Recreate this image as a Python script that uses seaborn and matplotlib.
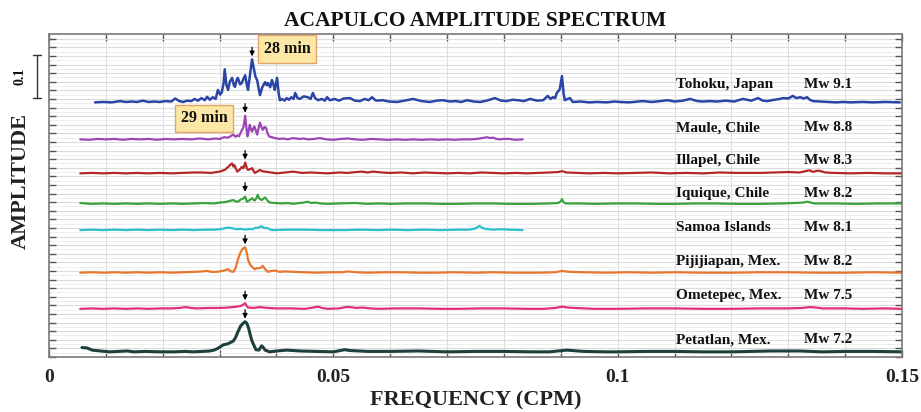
import matplotlib
matplotlib.use("Agg")
import matplotlib.pyplot as plt
import matplotlib.transforms as mtransforms
from matplotlib.ticker import MultipleLocator, FuncFormatter
import pandas as pd
import seaborn as sns

# ---------------------------------------------------------------- data
events = ["Tohoku, Japan", "Maule, Chile", "Illapel, Chile", "Iquique, Chile",
          "Samoa Islands", "Pijijiapan, Mex.", "Ometepec, Mex.", "Petatlan, Mex."]
magnitudes = ["Mw 9.1", "Mw 8.8", "Mw 8.3", "Mw 8.2",
              "Mw 8.1", "Mw 8.2", "Mw 7.5", "Mw 7.2"]
# vertical stacking offset of each spectrum
offsets = [0.592, 0.505, 0.427, 0.356, 0.295, 0.196, 0.112, 0.012]

# (frequency in CPM, spectral amplitude) for each event
tohoku = [
    (0.0081, 0.000), (0.0095, 0.001), (0.0110, 0.000), (0.0125, 0.003), (0.0135, 0.001),
    (0.0145, 0.002), (0.0155, 0.001), (0.0165, 0.004), (0.0175, 0.001), (0.0185, 0.002),
    (0.0195, 0.001), (0.0205, 0.003), (0.0215, 0.002), (0.0222, 0.009), (0.0229, 0.003),
    (0.0236, 0.001), (0.0243, 0.004), (0.0250, 0.003), (0.0256, 0.008), (0.0262, 0.004),
    (0.0268, 0.010), (0.0274, 0.005), (0.0278, 0.013), (0.0283, 0.006), (0.0288, 0.012),
    (0.0293, 0.008), (0.0297, 0.029), (0.0301, 0.018), (0.0304, 0.024), (0.0307, 0.045),
    (0.0309, 0.077), (0.0312, 0.040), (0.0315, 0.029), (0.0318, 0.048), (0.0322, 0.057),
    (0.0325, 0.040), (0.0327, 0.036), (0.0330, 0.052), (0.0332, 0.057), (0.0336, 0.042),
    (0.0339, 0.045), (0.0342, 0.055), (0.0345, 0.063), (0.0348, 0.040), (0.0350, 0.029),
    (0.0354, 0.070), (0.0357, 0.100), (0.0360, 0.080), (0.0363, 0.060), (0.0366, 0.052),
    (0.0369, 0.030), (0.0371, 0.017), (0.0375, 0.035), (0.0380, 0.047), (0.0383, 0.040),
    (0.0385, 0.045), (0.0389, 0.035), (0.0392, 0.052), (0.0395, 0.040), (0.0397, 0.029),
    (0.0401, 0.057), (0.0404, 0.020), (0.0406, 0.005), (0.0410, 0.008), (0.0414, 0.004),
    (0.0418, 0.010), (0.0422, 0.006), (0.0426, 0.012), (0.0430, 0.008), (0.0433, 0.022),
    (0.0437, 0.010), (0.0441, 0.008), (0.0448, 0.014), (0.0455, 0.012), (0.0460, 0.008),
    (0.0464, 0.022), (0.0468, 0.010), (0.0473, 0.005), (0.0480, 0.008), (0.0485, 0.004),
    (0.0489, 0.012), (0.0494, 0.005), (0.0502, 0.008), (0.0510, 0.004), (0.0518, 0.009),
    (0.0529, 0.010), (0.0538, 0.004), (0.0547, 0.003), (0.0555, 0.008), (0.0562, 0.005),
    (0.0568, 0.012), (0.0575, 0.004), (0.0587, 0.005), (0.0598, 0.002), (0.0612, 0.001),
    (0.0625, 0.004), (0.0640, 0.008), (0.0655, 0.003), (0.0670, 0.001), (0.0682, 0.004),
    (0.0693, 0.005), (0.0705, 0.002), (0.0715, 0.003), (0.0725, 0.001), (0.0735, 0.005),
    (0.0747, 0.002), (0.0758, 0.001), (0.0770, 0.004), (0.0784, 0.010), (0.0795, 0.004),
    (0.0805, 0.003), (0.0815, 0.006), (0.0825, 0.005), (0.0835, 0.003), (0.0846, 0.008),
    (0.0858, 0.004), (0.0869, 0.005), (0.0877, 0.015), (0.0882, 0.008), (0.0886, 0.012),
    (0.0890, 0.010), (0.0893, 0.022), (0.0898, 0.030), (0.0902, 0.061), (0.0905, 0.020),
    (0.0907, 0.005), (0.0912, 0.008), (0.0916, 0.010), (0.0921, 0.001), (0.0935, 0.002),
    (0.0950, 0.000), (0.0964, 0.001), (0.0980, 0.000), (0.0995, 0.002), (0.1004, 0.001),
    (0.1020, 0.000), (0.1035, 0.002), (0.1044, 0.003), (0.1060, 0.001), (0.1075, 0.003),
    (0.1088, 0.005), (0.1100, 0.002), (0.1115, 0.004), (0.1127, 0.008), (0.1140, 0.003),
    (0.1150, 0.002), (0.1162, 0.003), (0.1175, 0.002), (0.1190, 0.004), (0.1205, 0.002),
    (0.1220, 0.008), (0.1235, 0.004), (0.1247, 0.010), (0.1255, 0.004), (0.1263, 0.003),
    (0.1275, 0.006), (0.1285, 0.008), (0.1291, 0.010), (0.1300, 0.009), (0.1308, 0.015),
    (0.1314, 0.010), (0.1321, 0.012), (0.1327, 0.009), (0.1333, 0.012), (0.1338, 0.006),
    (0.1343, 0.003), (0.1355, 0.002), (0.1370, 0.001), (0.1385, 0.000), (0.1396, 0.001),
    (0.1410, 0.000), (0.1430, 0.001), (0.1450, 0.000), (0.1470, 0.001), (0.1496, 0.000),
]

maule = [
    (0.0055, 0.001), (0.0070, 0.000), (0.0085, 0.002), (0.0100, 0.001), (0.0115, 0.002),
    (0.0130, 0.000), (0.0145, 0.002), (0.0160, 0.001), (0.0175, 0.002), (0.0190, 0.000),
    (0.0205, 0.002), (0.0220, 0.001), (0.0235, 0.002), (0.0250, 0.001), (0.0265, 0.003),
    (0.0280, 0.001), (0.0292, 0.003), (0.0300, 0.002), (0.0308, 0.006), (0.0315, 0.005),
    (0.0320, 0.009), (0.0324, 0.012), (0.0328, 0.007), (0.0331, 0.010), (0.0334, 0.008),
    (0.0338, 0.019), (0.0342, 0.030), (0.0345, 0.056), (0.0347, 0.030), (0.0349, 0.008),
    (0.0351, 0.020), (0.0353, 0.035), (0.0355, 0.025), (0.0357, 0.019), (0.0359, 0.026),
    (0.0361, 0.031), (0.0364, 0.020), (0.0366, 0.012), (0.0369, 0.030), (0.0371, 0.040),
    (0.0374, 0.028), (0.0376, 0.023), (0.0379, 0.030), (0.0382, 0.027), (0.0384, 0.016),
    (0.0387, 0.008), (0.0392, 0.006), (0.0397, 0.004), (0.0405, 0.002), (0.0412, 0.003),
    (0.0420, 0.001), (0.0429, 0.004), (0.0440, 0.002), (0.0448, 0.003), (0.0455, 0.001),
    (0.0466, 0.002), (0.0476, 0.004), (0.0488, 0.001), (0.0500, 0.000), (0.0513, 0.002),
    (0.0526, 0.003), (0.0538, 0.001), (0.0552, 0.000), (0.0566, 0.002), (0.0580, 0.001),
    (0.0596, 0.000), (0.0612, 0.001), (0.0626, 0.000), (0.0640, 0.001), (0.0655, 0.000),
    (0.0670, 0.001), (0.0685, 0.000), (0.0700, 0.001), (0.0712, 0.000), (0.0725, 0.001),
    (0.0740, 0.001), (0.0752, 0.002), (0.0762, 0.004), (0.0770, 0.006), (0.0776, 0.004),
    (0.0781, 0.005), (0.0787, 0.002), (0.0793, 0.001), (0.0800, 0.002), (0.0810, 0.002),
    (0.0820, 0.000), (0.0833, 0.001),
]

illapel = [
    (0.0055, 0.000), (0.0075, 0.001), (0.0095, 0.000), (0.0115, 0.001), (0.0135, 0.000),
    (0.0155, 0.001), (0.0175, 0.000), (0.0195, 0.001), (0.0215, 0.000), (0.0235, 0.001),
    (0.0255, 0.002), (0.0270, 0.002), (0.0285, 0.001), (0.0300, 0.004), (0.0309, 0.008),
    (0.0315, 0.015), (0.0319, 0.020), (0.0322, 0.023), (0.0324, 0.016), (0.0326, 0.019),
    (0.0329, 0.010), (0.0331, 0.004), (0.0335, 0.008), (0.0339, 0.015), (0.0342, 0.012),
    (0.0345, 0.025), (0.0348, 0.012), (0.0350, 0.008), (0.0354, 0.010), (0.0357, 0.012),
    (0.0360, 0.005), (0.0362, 0.001), (0.0366, 0.004), (0.0371, 0.008), (0.0375, 0.005),
    (0.0380, 0.004), (0.0390, 0.002), (0.0401, 0.000), (0.0415, 0.002), (0.0429, 0.004),
    (0.0445, 0.001), (0.0460, 0.002), (0.0475, 0.001), (0.0490, 0.000), (0.0510, 0.002),
    (0.0525, 0.001), (0.0540, 0.003), (0.0550, 0.004), (0.0560, 0.002), (0.0570, 0.004),
    (0.0585, 0.002), (0.0600, 0.001), (0.0620, 0.002), (0.0640, 0.000), (0.0660, 0.002),
    (0.0680, 0.001), (0.0700, 0.000), (0.0720, 0.001), (0.0740, 0.000), (0.0760, 0.002),
    (0.0780, 0.001), (0.0800, 0.000), (0.0820, 0.001), (0.0840, 0.000), (0.0860, 0.001),
    (0.0880, 0.002), (0.0895, 0.003), (0.0902, 0.005), (0.0910, 0.002), (0.0930, 0.001),
    (0.0950, 0.000), (0.0975, 0.001), (0.1000, 0.000), (0.1030, 0.001), (0.1060, 0.002),
    (0.1090, 0.000), (0.1120, 0.001), (0.1150, 0.000), (0.1180, 0.002), (0.1210, 0.001),
    (0.1250, 0.001), (0.1275, 0.002), (0.1300, 0.003), (0.1320, 0.002), (0.1333, 0.006),
    (0.1338, 0.007), (0.1342, 0.004), (0.1346, 0.004), (0.1350, 0.006), (0.1355, 0.006),
    (0.1365, 0.002), (0.1380, 0.001), (0.1410, 0.000), (0.1440, 0.001), (0.1470, 0.000),
    (0.1500, 0.000),
]

iquique = [
    (0.0055, 0.002), (0.0075, 0.000), (0.0095, 0.001), (0.0115, 0.000), (0.0135, 0.001),
    (0.0155, 0.000), (0.0175, 0.001), (0.0195, 0.000), (0.0215, 0.001), (0.0235, 0.000),
    (0.0255, 0.001), (0.0275, 0.002), (0.0290, 0.001), (0.0300, 0.003), (0.0310, 0.004),
    (0.0318, 0.007), (0.0324, 0.009), (0.0328, 0.006), (0.0332, 0.005), (0.0337, 0.010),
    (0.0341, 0.012), (0.0345, 0.017), (0.0348, 0.005), (0.0352, 0.008), (0.0357, 0.013),
    (0.0360, 0.009), (0.0362, 0.008), (0.0365, 0.014), (0.0367, 0.021), (0.0370, 0.012),
    (0.0374, 0.009), (0.0377, 0.012), (0.0380, 0.015), (0.0384, 0.008), (0.0388, 0.003),
    (0.0398, 0.002), (0.0410, 0.001), (0.0420, 0.002), (0.0429, 0.000), (0.0440, 0.002),
    (0.0448, 0.003), (0.0455, 0.005), (0.0461, 0.002), (0.0468, 0.003), (0.0478, 0.001),
    (0.0490, 0.000), (0.0510, 0.001), (0.0540, 0.002), (0.0560, 0.000), (0.0580, 0.001),
    (0.0600, 0.000), (0.0630, 0.001), (0.0660, 0.001), (0.0690, 0.000), (0.0720, 0.000),
    (0.0750, 0.001), (0.0780, 0.001), (0.0810, 0.000), (0.0850, 0.000), (0.0880, 0.001),
    (0.0895, 0.002), (0.0900, 0.006), (0.0902, 0.011), (0.0905, 0.004), (0.0908, 0.001),
    (0.0930, 0.001), (0.0960, 0.000), (0.1000, 0.001), (0.1030, 0.001), (0.1070, 0.000),
    (0.1100, 0.000), (0.1140, 0.001), (0.1170, 0.001), (0.1210, 0.000), (0.1250, 0.000),
    (0.1290, 0.001), (0.1310, 0.002), (0.1325, 0.003), (0.1333, 0.005), (0.1340, 0.003),
    (0.1345, 0.001), (0.1380, 0.001), (0.1420, 0.000), (0.1460, 0.001), (0.1500, 0.001),
]

samoa = [
    (0.0055, 0.000), (0.0075, 0.001), (0.0095, 0.000), (0.0115, 0.001), (0.0135, 0.000),
    (0.0155, 0.001), (0.0175, 0.000), (0.0195, 0.001), (0.0215, 0.000), (0.0235, 0.001),
    (0.0255, 0.000), (0.0275, 0.001), (0.0290, 0.001), (0.0300, 0.002), (0.0308, 0.004),
    (0.0315, 0.006), (0.0320, 0.005), (0.0324, 0.004), (0.0330, 0.002), (0.0338, 0.003),
    (0.0345, 0.001), (0.0352, 0.003), (0.0358, 0.002), (0.0362, 0.005), (0.0368, 0.006),
    (0.0372, 0.008), (0.0374, 0.009), (0.0378, 0.005), (0.0383, 0.005), (0.0388, 0.002),
    (0.0394, 0.000), (0.0420, 0.001), (0.0450, 0.001), (0.0480, 0.000), (0.0520, 0.000),
    (0.0550, 0.001), (0.0580, 0.000), (0.0600, 0.001), (0.0630, 0.000), (0.0660, 0.001),
    (0.0690, 0.000), (0.0720, 0.001), (0.0740, 0.001), (0.0750, 0.004), (0.0757, 0.010),
    (0.0762, 0.005), (0.0768, 0.003), (0.0780, 0.001), (0.0795, 0.002), (0.0810, 0.001),
    (0.0833, 0.000),
]

pijijiapan = [
    (0.0055, 0.000), (0.0075, 0.001), (0.0095, 0.000), (0.0115, 0.001), (0.0135, 0.000),
    (0.0155, 0.001), (0.0175, 0.000), (0.0195, 0.001), (0.0215, 0.000), (0.0235, 0.001),
    (0.0255, 0.002), (0.0270, 0.003), (0.0278, 0.004), (0.0285, 0.002), (0.0295, 0.002),
    (0.0305, 0.004), (0.0315, 0.008), (0.0320, 0.003), (0.0324, 0.002), (0.0328, 0.010),
    (0.0332, 0.030), (0.0336, 0.045), (0.0340, 0.055), (0.0345, 0.059), (0.0348, 0.045),
    (0.0350, 0.030), (0.0354, 0.018), (0.0357, 0.014), (0.0360, 0.010), (0.0362, 0.008),
    (0.0366, 0.011), (0.0369, 0.010), (0.0373, 0.012), (0.0376, 0.016), (0.0380, 0.008),
    (0.0385, 0.002), (0.0391, 0.004), (0.0397, 0.005), (0.0405, 0.002), (0.0415, 0.003),
    (0.0429, 0.002), (0.0450, 0.001), (0.0470, 0.000), (0.0495, 0.001), (0.0515, 0.001),
    (0.0526, 0.003), (0.0540, 0.001), (0.0560, 0.000), (0.0590, 0.001), (0.0620, 0.001),
    (0.0650, 0.000), (0.0680, 0.000), (0.0710, 0.001), (0.0750, 0.000), (0.0780, 0.001),
    (0.0820, 0.000), (0.0860, 0.000), (0.0890, 0.001), (0.0902, 0.004), (0.0915, 0.002),
    (0.0940, 0.001), (0.0980, 0.000), (0.1020, 0.001), (0.1060, 0.000), (0.1100, 0.001),
    (0.1150, 0.000), (0.1200, 0.000), (0.1250, 0.001), (0.1300, 0.001), (0.1350, 0.000),
    (0.1400, 0.000), (0.1450, 0.001), (0.1500, 0.000),
]

ometepec = [
    (0.0055, 0.000), (0.0075, 0.001), (0.0095, 0.000), (0.0115, 0.001), (0.0135, 0.000),
    (0.0155, 0.001), (0.0175, 0.000), (0.0195, 0.001), (0.0215, 0.001), (0.0230, 0.002),
    (0.0240, 0.004), (0.0250, 0.002), (0.0260, 0.001), (0.0280, 0.002), (0.0300, 0.002),
    (0.0315, 0.003), (0.0330, 0.005), (0.0338, 0.007), (0.0345, 0.013), (0.0348, 0.006),
    (0.0350, 0.003), (0.0360, 0.002), (0.0371, 0.004), (0.0385, 0.002), (0.0400, 0.001),
    (0.0425, 0.001), (0.0450, 0.000), (0.0465, 0.003), (0.0473, 0.005), (0.0480, 0.002),
    (0.0490, 0.000), (0.0510, 0.001), (0.0522, 0.004), (0.0530, 0.004), (0.0540, 0.002),
    (0.0550, 0.003), (0.0565, 0.001), (0.0580, 0.000), (0.0610, 0.001), (0.0650, 0.001),
    (0.0690, 0.000), (0.0720, 0.000), (0.0760, 0.001), (0.0800, 0.001), (0.0840, 0.000),
    (0.0870, 0.000), (0.0890, 0.002), (0.0902, 0.005), (0.0912, 0.003), (0.0925, 0.002),
    (0.0960, 0.000), (0.1000, 0.000), (0.1050, 0.001), (0.1100, 0.001), (0.1150, 0.000),
    (0.1200, 0.000), (0.1250, 0.001), (0.1300, 0.001), (0.1325, 0.002), (0.1338, 0.004),
    (0.1348, 0.003), (0.1360, 0.001), (0.1400, 0.001), (0.1430, 0.000), (0.1470, 0.001),
    (0.1500, 0.000),
]

petatlan = [
    (0.0058, 0.010), (0.0067, 0.009), (0.0076, 0.004), (0.0090, 0.002), (0.0107, 0.000),
    (0.0122, 0.001), (0.0137, 0.002), (0.0150, 0.000), (0.0170, 0.001), (0.0195, 0.000),
    (0.0220, 0.000), (0.0240, 0.001), (0.0253, 0.000), (0.0270, 0.001), (0.0283, 0.002),
    (0.0290, 0.004), (0.0297, 0.008), (0.0306, 0.016), (0.0315, 0.019), (0.0324, 0.025),
    (0.0328, 0.033), (0.0332, 0.046), (0.0337, 0.060), (0.0341, 0.066), (0.0345, 0.070),
    (0.0348, 0.066), (0.0351, 0.055), (0.0354, 0.039), (0.0357, 0.025), (0.0360, 0.016),
    (0.0364, 0.005), (0.0369, 0.004), (0.0374, 0.014), (0.0377, 0.010), (0.0380, 0.004),
    (0.0388, 0.000), (0.0400, 0.002), (0.0418, 0.004), (0.0430, 0.003), (0.0441, 0.002),
    (0.0470, 0.001), (0.0500, 0.000), (0.0520, 0.005), (0.0530, 0.003), (0.0560, 0.001),
    (0.0600, 0.001), (0.0650, 0.002), (0.0700, 0.000), (0.0750, 0.001), (0.0800, 0.001),
    (0.0850, 0.000), (0.0880, 0.000), (0.0910, 0.004), (0.0940, 0.001), (0.0980, 0.000),
    (0.1000, 0.000), (0.1050, 0.001), (0.1100, 0.001), (0.1150, 0.000), (0.1200, 0.000),
    (0.1270, 0.002), (0.1300, 0.002), (0.1320, 0.002), (0.1360, 0.000), (0.1400, 0.001),
    (0.1450, 0.001), (0.1500, 0.000),
]

spectra = [tohoku, maule, illapel, iquique, samoa, pijijiapan, ometepec, petatlan]

# periods (min) marked with arrows; None = no arrow
marked_period = [28, 29, 29, 29, None, 29, 29, 29]
boxed = {0: "28 min", 1: "29 min"}

# ---------------------------------------------------------------- style
colors = ["#2a45a6", "#9b47b3", "#b3262a", "#3aa33c",
          "#2ec0cb", "#e8772f", "#e0307c", "#1d403c"]
widths = [1.8, 1.6, 1.6, 1.6, 1.6, 1.6, 1.6, 2.2]

sns.set_theme(style="whitegrid")
plt.rcParams["font.family"] = ["Liberation Serif", "DejaVu Serif"]
plt.rcParams["font.weight"] = "bold"

rows = []
for name, spec, off in zip(events, spectra, offsets):
    for fi, ai in spec:
        rows.append({"event": name, "freq": fi, "level": off + ai})
df = pd.DataFrame(rows)

fig = plt.figure(figsize=(9.21, 4.12), dpi=100)
ax = fig.add_axes([0.0532, 0.1335, 0.9262, 0.7840])

for i, name in enumerate(events):
    sns.lineplot(data=df[df["event"] == name], x="freq", y="level",
                 color=colors[i], linewidth=widths[i], sort=False,
                 estimator=None, legend=False, ax=ax)

ax.set_xlim(0, 0.15)
ax.set_ylim(0, 0.751)

# frame, ticks and grid in the style of a MATLAB figure
ax.set_facecolor("white")
for s in ax.spines.values():
    s.set_color("#7a7a7a")
    s.set_linewidth(1.2)
ax.xaxis.set_major_locator(MultipleLocator(0.01))
ax.xaxis.set_major_formatter(FuncFormatter(
    lambda v, p: f"{v:g}" if abs(v / 0.05 - round(v / 0.05)) < 1e-6 else ""))
ax.yaxis.set_major_locator(MultipleLocator(0.02))
ax.yaxis.set_minor_locator(MultipleLocator(0.01))
ax.set_yticklabels([])
ax.tick_params(axis="both", which="major", direction="in", length=5, width=1,
               color="#555555", top=True, right=True, bottom=True, left=True)
ax.tick_params(axis="y", which="minor", length=0)
ax.tick_params(axis="x", labelsize=14, pad=9, labelcolor="#222222")
for lab in ax.get_xticklabels():
    lab.set_fontweight("bold")
ax.grid(True, which="major", color="#dcdcdc", linewidth=0.8)
ax.grid(True, which="minor", axis="y", color="#ececec", linewidth=0.6)
ax.set_axisbelow(True)

ax.set_xlabel("FREQUENCY (CPM)", fontsize=16, fontweight="bold",
              color="#222222", labelpad=3)
ax.set_ylabel("AMPLITUDE", fontsize=16, fontweight="bold", color="#222222",
              va="center")
ax.yaxis.set_label_coords(-0.033, 0.545)
ax.set_title("ACAPULCO AMPLITUDE SPECTRUM", fontsize=15.5, fontweight="bold",
             color="#111111", pad=6)

# event names and magnitudes
label_y = [0.633, 0.533, 0.456, 0.381, 0.302, 0.223, 0.142, 0.040]
for i in range(len(events)):
    ax.text(0.1103, label_y[i], events[i], fontsize=11, fontweight="bold",
            va="center", ha="left", color="#111111")
    ax.text(0.1327, label_y[i], magnitudes[i], fontsize=11, fontweight="bold",
            va="center", ha="left", color="#111111")

# arrows at the dominant period of each spectrum
for i, per in enumerate(marked_period):
    if per is None:
        continue
    fx = 1.0 / per
    tip = offsets[i] + max(a for _, a in spectra[i]) + 0.007
    ax.annotate("", xy=(fx, tip), xytext=(fx, tip + 0.021),
                arrowprops=dict(arrowstyle="-|>", color="black", lw=0.9,
                                mutation_scale=7, shrinkA=0, shrinkB=0))

box_style = dict(boxstyle="square,pad=0.35", facecolor="#fde7a6",
                 edgecolor="#e3a466", linewidth=1.0)
ax.text(0.0419, 0.716, boxed[0], fontsize=11.5, fontweight="bold",
        ha="center", va="center", bbox=box_style, color="#111111")
ax.text(0.0273, 0.555, boxed[1], fontsize=11.5, fontweight="bold",
        ha="center", va="center", bbox=box_style, color="#111111")

# amplitude scale bar (0.1)
trans = mtransforms.blended_transform_factory(ax.transAxes, ax.transData)
bar_x = -0.014
bar_lo, bar_hi = 0.602, 0.702
ax.plot([bar_x, bar_x], [bar_lo, bar_hi], color="#333333", lw=1.0,
        transform=trans, clip_on=False)
for yy in (bar_lo, bar_hi):
    ax.plot([bar_x - 0.005, bar_x + 0.005], [yy, yy], color="#333333",
            lw=1.0, transform=trans, clip_on=False)
ax.text(-0.034, (bar_lo + bar_hi) / 2, "0.1", rotation=90, fontsize=10,
        fontweight="bold", ha="center", va="center", transform=trans,
        color="#111111")

fig.savefig("out.png", dpi=100, facecolor="white")
